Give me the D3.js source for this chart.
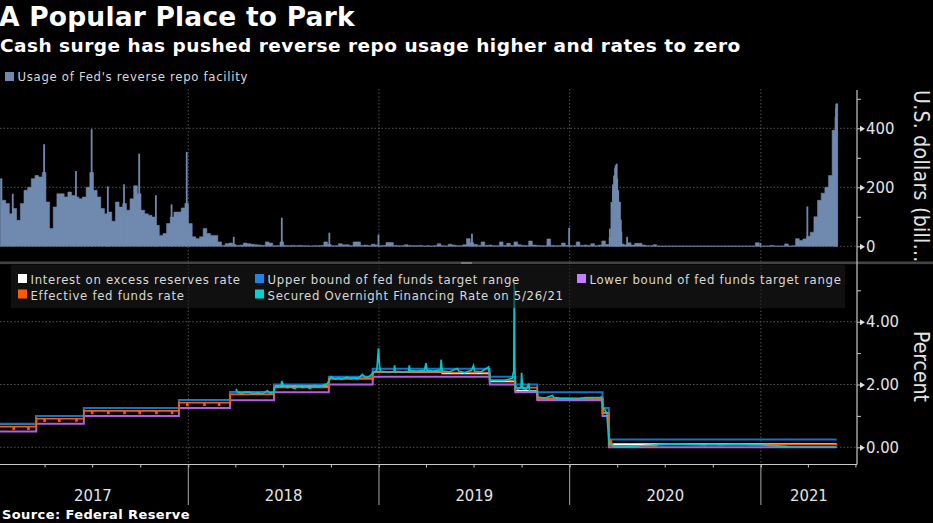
<!DOCTYPE html>
<html>
<head>
<meta charset="utf-8">
<script src="https://cdnjs.cloudflare.com/ajax/libs/d3/7.8.5/d3.min.js"></script>
<style>
  html, body { margin: 0; background: #000; overflow: hidden; }
  svg { display: block; font-family: "DejaVu Sans", sans-serif; }
  .cond { font-stretch: condensed; }
</style>
</head>
<body>
<div id="chart"></div>
<script>
const parse = d3.utcParse('%Y-%m-%d');

// weekly level of the reverse repo facility, bn USD, Fridays from 2017-01-06
const rrpFirstWeek = '2017-01-06';
const rrpWeekly = [
  229,156,145,110,128,88,145,190,200,229,
  240,235,250,150,60,133,178,178,167,184,
  172,167,161,167,200,250,190,167,128,110,
  116,85,150,133,145,122,161,205,178,122,
  110,105,99,71,37,43,77,99,116,116,
  130,145,77,32,26,32,60,43,37,37,
  15,3,9,11,6,3,4,11,9,7,
  5,4,3,15,11,2,2,15,3,2,
  3,2,3,2,2,1,2,2,3,15,
  6,2,2,9,5,5,2,15,15,3,
  4,2,7,4,2,3,13,13,3,2,
  2,5,3,2,2,3,1,2,1,2,
  9,2,1,7,4,2,2,5,26,12,
  6,3,15,3,4,2,2,15,3,10,
  3,15,5,3,2,18,4,3,2,2,
  25,3,2,2,11,3,2,2,15,3,
  4,3,9,2,4,18,6,30,200,150,
  8,5,12,4,10,10,4,2,2,5,
  1,1,1,1,1,1,1,1,1,1,
  1,1,1,1,1,1,1,1,1,1,
  1,1,1,1,1,1,1,12,1,1,
  1,3,1,1,1,8,1,2,26,20,
  25,34,48,100,156,180,200,240,393,483
];

// single days that stick out of the weekly level (mostly month ends)
const rrpSpikeDates = [
  '2017-01-30','2017-03-31','2017-05-31','2017-06-30','2017-07-31','2017-08-31',
  '2017-09-29','2017-10-31','2017-11-30','2017-12-29','2018-03-29','2018-06-29',
  '2018-09-28','2018-12-31','2019-06-28','2019-12-31',
  '2020-03-18','2020-03-21','2020-03-24','2020-03-26','2020-03-28','2020-03-29','2020-03-31','2020-04-01',
  '2020-04-03','2020-04-06','2020-04-08','2020-04-09','2020-04-20','2020-12-31',
  '2021-03-31','2021-05-24','2021-05-25','2021-05-26'
];
const rrpSpikeValues = [
  178,346,255,397,203,210,
  314,173,142,320,32,97,
  46,40,43,63,
  60,150,210,240,265,275,280,230,
  190,150,90,50,32,12,
  135,440,470,483
];

// policy rates, each value holds until the next date
const policyDates = [
  '2016-12-15','2017-03-16','2017-06-15','2017-12-14','2018-03-22','2018-06-14',
  '2018-09-27','2018-12-20','2019-05-02','2019-08-01','2019-09-19','2019-10-31',
  '2020-03-04','2020-03-16','2020-06-15','2021-05-26'
];
const upperBound = [0.75,1.00,1.25,1.50,1.75,2.00,2.25,2.50,2.50,2.25,2.00,1.75,1.25,0.25,0.25,0.25];
const lowerBound = [0.50,0.75,1.00,1.25,1.50,1.75,2.00,2.25,2.25,2.00,1.75,1.50,1.00,0.00,0.00,0.00];
const ioer       = [0.75,1.00,1.25,1.50,1.75,1.95,2.20,2.40,2.35,2.10,1.80,1.55,1.10,0.10,0.10,0.10];
const effr       = [0.66,0.91,1.16,1.42,1.68,1.91,2.18,2.40,2.38,2.13,1.90,1.55,1.09,0.05,0.09,0.06];

// month end dips of the effective rate, and the slow fall after the March 2020 cut
const effrDipDates = [
  '2017-01-31','2017-02-28','2017-03-31','2017-04-28','2017-05-31','2017-06-30','2017-07-31',
  '2017-08-31','2017-09-29','2017-10-31','2017-11-30','2017-12-29','2018-01-31','2018-02-28',
  '2020-03-17','2020-03-19','2020-03-21'
];
const effrDipValues = [
  0.58,0.58,0.83,0.83,0.84,1.08,1.08,
  1.08,1.08,1.08,1.08,1.33,1.34,1.34,
  0.25,0.20,0.12
];

const sofrDates = [
  '2018-04-02','2018-04-03','2018-04-06','2018-04-13','2018-04-20','2018-04-30','2018-05-04','2018-05-15','2018-05-22','2018-05-31',
  '2018-06-01','2018-06-07','2018-06-14','2018-06-15','2018-06-22','2018-06-28','2018-06-29','2018-07-02','2018-07-09','2018-07-16',
  '2018-07-24','2018-07-31','2018-08-07','2018-08-15','2018-08-22','2018-08-31','2018-09-07','2018-09-14','2018-09-17','2018-09-24',
  '2018-09-28','2018-10-01','2018-10-08','2018-10-15','2018-10-23','2018-10-31','2018-11-08','2018-11-15','2018-11-23','2018-11-30',
  '2018-12-07','2018-12-14','2018-12-20','2018-12-28','2018-12-31','2019-01-02','2019-01-04','2019-01-15','2019-01-30','2019-01-31',
  '2019-02-01','2019-02-15','2019-02-27','2019-02-28','2019-03-01','2019-03-15','2019-03-29','2019-04-01','2019-04-03','2019-04-15',
  '2019-04-29','2019-04-30','2019-05-02','2019-05-15','2019-05-31','2019-06-03','2019-06-14','2019-06-27','2019-07-01','2019-07-03',
  '2019-07-15','2019-07-30','2019-08-01','2019-08-15','2019-08-30','2019-09-03','2019-09-13','2019-09-16','2019-09-17','2019-09-18',
  '2019-09-19','2019-09-24','2019-09-30','2019-10-01','2019-10-03','2019-10-10','2019-10-15','2019-10-16','2019-10-31','2019-11-01',
  '2019-11-15','2019-11-29','2019-12-02','2019-12-16','2019-12-31','2020-01-15','2020-01-31','2020-02-14','2020-02-28','2020-03-02',
  '2020-03-04','2020-03-12','2020-03-16','2020-03-17','2020-03-31','2020-04-15','2020-05-15','2020-06-15','2020-07-01','2020-07-20',
  '2020-08-14','2020-09-15','2020-09-30','2020-10-15','2020-11-16','2020-12-15','2020-12-31','2021-01-15','2021-02-16','2021-03-01',
  '2021-03-31','2021-04-15','2021-05-26'
];
const sofrValues = [
  1.80,1.83,1.75,1.72,1.76,1.75,1.71,1.73,1.70,1.78,
  1.80,1.72,1.76,1.90,1.93,1.98,2.11,1.97,1.90,1.92,
  1.87,1.97,1.90,1.93,1.88,1.98,1.92,1.95,1.99,2.02,
  2.15,2.25,2.17,2.20,2.17,2.23,2.19,2.21,2.20,2.32,
  2.22,2.26,2.36,2.46,3.15,2.60,2.42,2.40,2.41,2.61,
  2.42,2.40,2.42,2.61,2.44,2.43,2.45,2.68,2.45,2.43,
  2.47,2.79,2.43,2.40,2.51,2.42,2.38,2.45,2.60,2.42,
  2.40,2.56,2.14,2.13,2.13,2.15,2.20,2.43,5.25,2.55,
  1.95,1.85,1.90,2.37,1.88,1.85,2.03,1.80,1.78,1.60,
  1.57,1.65,1.58,1.55,1.55,1.53,1.58,1.58,1.59,1.60,
  1.30,1.10,0.26,0.10,0.01,0.01,0.05,0.08,0.10,0.11,
  0.09,0.08,0.09,0.08,0.09,0.08,0.08,0.06,0.03,0.01,
  0.01,0.01,0.01
];

const yearLabels = ['2017', '2018', '2019', '2020', '2021'];
const rrpMajorTicks = [0, 200, 400];
const rrpMinorTicks = [100, 300, 500];
const rateMajorTicks = [0, 2, 4];
const rateMinorTicks = [1, 3, 5];

const legendRates = [
  {name: 'Interest on excess reserves rate', color: '#ffffff', col: 0, row: 0},
  {name: 'Effective fed funds rate', color: '#ff5a00', col: 0, row: 1},
  {name: 'Upper bound of fed funds target range', color: '#1e82e6', col: 1, row: 0},
  {name: 'Secured Overnight Financing Rate on 5/26/21', color: '#00d2d2', col: 1, row: 1},
  {name: 'Lower bound of fed funds target range', color: '#c77dff', col: 2, row: 0}
];

const width = 933, height = 523;
const axisX = 857, axisY = 464.5;
const legendColX = [18, 255, 577];

const svg = d3.select('#chart').append('svg').attr('width', width).attr('height', height);
svg.append('rect').attr('width', width).attr('height', height).attr('fill', '#000');

const x = d3.scaleUtc().domain([parse('2017-01-01'), parse('2021-07-04')]).range([-2.4, axisX]);
const yRrp = d3.scaleLinear().domain([0, 400]).range([246.3, 128.3]);
const yRate = d3.scaleLinear().domain([0, 2]).range([447.3, 384.5]);

// grid
const grid = svg.append('g').attr('stroke', '#6a6a6a').attr('stroke-width', 0.8).attr('stroke-dasharray', '1.5 2');
const yearStarts = d3.utcYear.range(parse('2018-01-01'), parse('2021-07-01'));
grid.selectAll('.vt').data(yearStarts).join('line')
  .attr('x1', d => x(d)).attr('x2', d => x(d)).attr('y1', 89).attr('y2', 262);
grid.selectAll('.vb').data(yearStarts).join('line')
  .attr('x1', d => x(d)).attr('x2', d => x(d)).attr('y1', 265).attr('y2', axisY);
grid.selectAll('.ht').data(rrpMajorTicks).join('line')
  .attr('x1', 0).attr('x2', axisX).attr('y1', d => yRrp(d)).attr('y2', d => yRrp(d));
grid.selectAll('.hb').data(rateMajorTicks).join('line')
  .attr('x1', 0).attr('x2', axisX).attr('y1', d => yRate(d)).attr('y2', d => yRate(d));

// top panel
const firstWeek = parse(rrpFirstWeek);
const rrpSeries = rrpWeekly.map((v, i) => ({date: d3.utcDay.offset(firstWeek, i * 7), value: v}));
const rrpArea = d3.area().curve(d3.curveStep).x(d => x(d.date)).y0(yRrp(0)).y1(d => yRrp(d.value));
svg.append('path').datum(rrpSeries).attr('d', rrpArea)
  .attr('fill', '#7089ae').attr('stroke', '#7089ae').attr('stroke-width', 0.6);
svg.append('g').selectAll('rect').data(rrpSpikeDates).join('rect')
  .attr('x', d => x(parse(d)) - 0.9).attr('width', 1.8)
  .attr('y', (d, i) => yRrp(rrpSpikeValues[i]))
  .attr('height', (d, i) => yRrp(0) - yRrp(rrpSpikeValues[i]))
  .attr('fill', '#7089ae');

// bottom panel
const stepLine = d3.line().curve(d3.curveStepAfter).x(d => x(d.date)).y(d => yRate(d.value));
const toSeries = (dates, values) => dates.map((d, i) => ({date: parse(d), value: values[i]}));

function withDips(base, dipDates, dipValues) {
  const out = base.slice();
  const find = d3.bisector(d => d.date).right;
  dipDates.forEach((d, i) => {
    const date = parse(d);
    const level = base[find(base, date) - 1].value;
    out.push({date: date, value: dipValues[i]});
    out.push({date: d3.utcDay.offset(date, 2), value: level});
  });
  return out.sort((a, b) => a.date - b.date);
}

const policyLines = [
  {values: ioer, color: '#ffffff', w: 1.6},
  {values: lowerBound, color: '#b062d8', w: 2},
  {values: upperBound, color: '#1a70c4', w: 2}
];
policyLines.forEach(l => {
  svg.append('path').datum(toSeries(policyDates, l.values)).attr('d', stepLine)
    .attr('fill', 'none').attr('stroke', l.color).attr('stroke-width', l.w);
});
svg.append('path').datum(withDips(toSeries(policyDates, effr), effrDipDates, effrDipValues))
  .attr('d', stepLine).attr('fill', 'none').attr('stroke', '#ff5a00').attr('stroke-width', 1.6);
svg.append('path').datum(toSeries(sofrDates, sofrValues))
  .attr('d', d3.line().x(d => x(d.date)).y(d => yRate(d.value)))
  .attr('fill', 'none').attr('stroke', '#00c8cc').attr('stroke-width', 1.7);

// legends
svg.append('rect').attr('x', 11).attr('y', 265).attr('width', 834).attr('height', 43)
  .attr('fill', 'rgb(26,26,26)').attr('fill-opacity', 0.6);

const legendFont = {size: 13, spacing: 0.7};
svg.append('rect').attr('x', 5).attr('y', 72).attr('width', 9).attr('height', 9).attr('fill', '#7089ae');
svg.append('text').attr('class', 'cond').attr('x', 17.5).attr('y', 81)
  .attr('font-size', legendFont.size).attr('letter-spacing', legendFont.spacing)
  .attr('fill', '#d8d8d8').text("Usage of Fed's reverse repo facility");

const legendItems = svg.append('g').selectAll('g').data(legendRates).join('g')
  .attr('transform', d => `translate(${legendColX[d.col]},${274 + d.row * 15.5})`);
legendItems.append('rect').attr('width', 9).attr('height', 9).attr('fill', d => d.color);
legendItems.append('text').attr('class', 'cond').attr('x', 12.5).attr('y', 10)
  .attr('font-size', legendFont.size).attr('letter-spacing', legendFont.spacing)
  .attr('fill', '#d8d8d8').text(d => d.name);

// separator
svg.append('rect').attr('x', 0).attr('y', 261.5).attr('width', width).attr('height', 2.6).attr('fill', '#444');
svg.append('rect').attr('x', 461).attr('y', 262).attr('width', 11).attr('height', 2).attr('fill', '#777');

// right axes
const axisColor = '#c8c8c8';
function rightAxis(scale, major, minor, fmt) {
  const g = svg.append('g').attr('transform', `translate(${axisX},0)`);
  g.append('g').call(d3.axisRight(scale).tickValues(minor).tickSize(4).tickFormat(''))
    .call(s => s.select('.domain').remove())
    .selectAll('line').attr('stroke', axisColor);
  const m = g.append('g').call(d3.axisRight(scale).tickValues(major).tickSize(4).tickPadding(5).tickFormat(fmt));
  m.select('.domain').remove();
  m.selectAll('line').attr('stroke', axisColor);
  m.selectAll('.tick').append('path').attr('d', 'M3,-3L8,0L3,3Z').attr('fill', '#e0e0e0');
  m.selectAll('text').attr('class', 'cond').attr('font-size', 16.5).attr('fill', '#e4e4e4')
    .attr('font-family', '"DejaVu Sans", sans-serif');
}
rightAxis(yRrp, rrpMajorTicks, rrpMinorTicks, d3.format('d'));
rightAxis(yRate, rateMajorTicks, rateMinorTicks, d3.format('.2f'));
svg.append('line').attr('x1', axisX).attr('x2', axisX).attr('y1', 90).attr('y2', axisY)
  .attr('stroke', axisColor).attr('stroke-width', 1.2);

// bottom axis
const xAxis = svg.append('g').attr('transform', `translate(0,${axisY})`);
xAxis.call(d3.axisBottom(x).ticks(d3.utcMonth.every(3)).tickSize(3).tickFormat(''));
xAxis.select('.domain').remove();
xAxis.selectAll('line').attr('stroke', axisColor);
svg.append('line').attr('x1', 0).attr('x2', axisX).attr('y1', axisY).attr('y2', axisY)
  .attr('stroke', axisColor).attr('stroke-width', 1.2);
svg.append('g').selectAll('line').data(yearStarts).join('line')
  .attr('x1', d => x(d)).attr('x2', d => x(d)).attr('y1', axisY).attr('y2', 505)
  .attr('stroke', '#a8a8a8').attr('stroke-width', 1);
svg.append('g').selectAll('text').data(yearLabels).join('text')
  .attr('class', 'cond')
  .attr('x', d => (x(parse(d + '-01-01')) + Math.min(x(parse((+d + 1) + '-01-01')), axisX)) / 2)
  .attr('y', 501).attr('text-anchor', 'middle')
  .attr('font-size', 16.5).attr('fill', '#e4e4e4').text(d => d);

// axis titles
svg.append('text').attr('class', 'cond').attr('transform', 'translate(914,90) rotate(90)')
  .attr('font-size', 21).attr('letter-spacing', 0.3).attr('fill', '#e4e4e4').text('U.S. dollars (bill…');
svg.append('text').attr('class', 'cond').attr('transform', 'translate(914,331) rotate(90)')
  .attr('font-size', 21).attr('fill', '#e4e4e4').text('Percent');

// titles
svg.append('text').attr('x', -1).attr('y', 26).attr('font-size', 26.5).attr('font-weight', 700)
  .attr('letter-spacing', 0.2).attr('fill', '#fff').text('A Popular Place to Park');
svg.append('text').attr('x', 0).attr('y', 52).attr('font-size', 18.5).attr('font-weight', 700)
  .attr('letter-spacing', 0.48).attr('fill', '#fff').text('Cash surge has pushed reverse repo usage higher and rates to zero');
svg.append('text').attr('x', 2).attr('y', 519).attr('font-size', 13).attr('font-weight', 700)
  .attr('letter-spacing', 0.4).attr('fill', '#fff').text('Source: Federal Reserve');
</script>
</body>
</html>
